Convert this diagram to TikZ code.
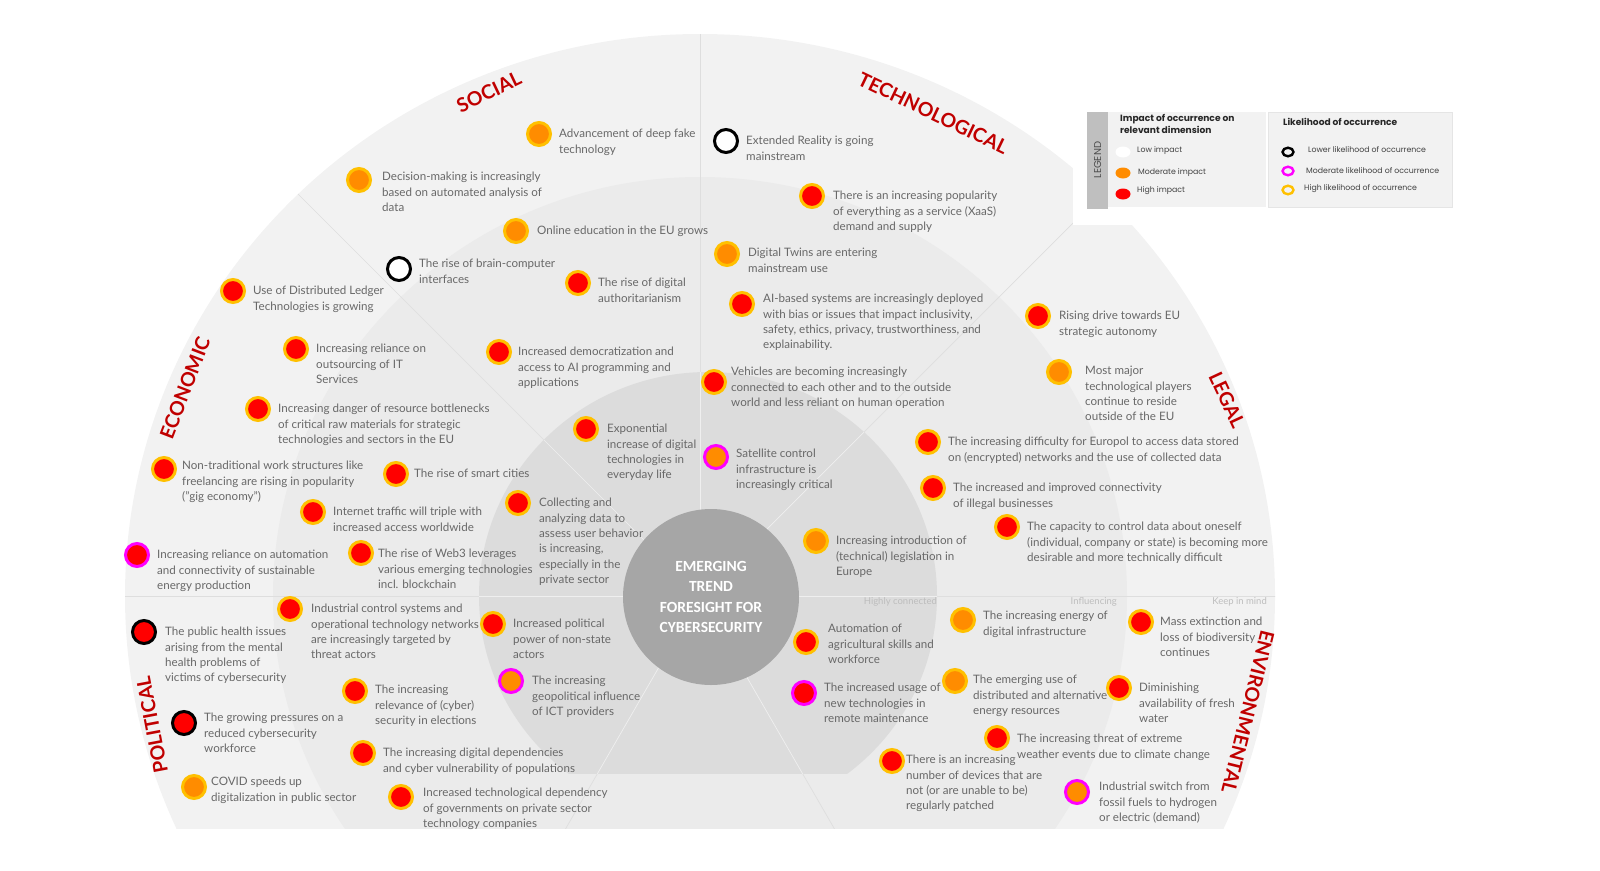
\documentclass[tikz,border=0pt]{standalone}
\usepackage{fontspec}
\setmainfont{Lato}
\newfontfamily\hubfont{Carlito}
\newfontfamily\legendfont{Poppins}
\usetikzlibrary{shapes.geometric}

\definecolor{ringouter}{HTML}{F2F2F2}
\definecolor{ringmid}{HTML}{EBEBEB}
\definecolor{ringinner}{HTML}{DCDCDC}
\definecolor{hubgrey}{HTML}{A6A6A6}
\definecolor{sectorline}{HTML}{DEDEDE}
\definecolor{impred}{HTML}{FF0000}
\definecolor{imporange}{HTML}{FF8C00}
\definecolor{likyellow}{HTML}{FFC000}
\definecolor{likmagenta}{HTML}{FF00FF}
\definecolor{dimred}{HTML}{C00000}
\definecolor{trendtext}{HTML}{686868}
\definecolor{zonetext}{HTML}{BDBDBD}
\definecolor{keystrip}{HTML}{BFBFBF}

\tikzset{
    trend/.style={circle, inner sep=0pt, minimum size=23pt, line width=3pt},
    highimp/.style={trend, fill=impred},
    modimp/.style={trend, fill=imporange},
    lowimp/.style={trend, fill=white},
    highlik/.style={draw=likyellow},
    modlik/.style={draw=likmagenta},
    lowlik/.style={draw=black},
    desc/.style={anchor=north west, align=left, inner sep=0pt, text=trendtext,
        font=\fontsize{11.6}{15.4}\selectfont},
    dimension/.style={inner sep=0pt, text=dimred, font=\bfseries\fontsize{19.5}{19.5}\selectfont},
    zone/.style={anchor=east, inner sep=0pt, text=zonetext, font=\fontsize{9.5}{11}\selectfont},
    hub/.style={circle, fill=hubgrey, minimum size=176pt, inner sep=0pt, text=white,
        align=center, font={\hubfont\bfseries\fontsize{15.5}{20.3}\selectfont}},
    keydot/.style={ellipse, inner sep=0pt, minimum width=15pt, minimum height=11pt},
    keyring/.style={ellipse, inner sep=0pt, minimum width=11pt, minimum height=8.5pt, line width=2.4pt},
    keytext/.style={anchor=west, inner sep=0pt, text=black!75, font=\legendfont\fontsize{7.8}{9}\selectfont},
    keytitle/.style={anchor=north west, align=left, inner sep=0pt, text=black!85,
        font=\legendfont\bfseries\fontsize{9.1}{12.5}\selectfont},
}

\begin{document}
\begin{tikzpicture}[x=1pt, y=-1pt]
    \useasboundingbox (0,0) rectangle (1600,870);
    \coordinate (ctr) at (700,596);

    \begin{scope}
        \clip (0,0) rectangle (1600,828);
        \fill[ringouter] (ctr) ellipse [x radius=575pt, y radius=562pt];
        \fill[ringmid] (ctr) ellipse [x radius=427pt, y radius=419pt];
        \clip (ctr) ellipse [x radius=575pt, y radius=562pt];
        \foreach \a in {0,45,90,135,180,240,300}
            \draw[sectorline, line width=0.7pt] (ctr) -- ++(\a:600pt);
        \begin{scope}
            \clip (0,0) rectangle (1600,773);
            \fill[ringinner] (708,596) ellipse [x radius=229pt, y radius=224pt];
            \clip (708,596) ellipse [x radius=229pt, y radius=224pt];
            \foreach \a in {0,45,90,135,180,240,300}
                \draw[white!55!ringinner, line width=0.7pt] (ctr) -- ++(\a:600pt);
        \end{scope}
    \end{scope}

    \fill[white] (1073,0) rectangle (1600,225);

    \node[hub] (hub) at (711,597) {EMERGING\\TREND\\FORESIGHT FOR\\CYBERSECURITY};

    \node[dimension, rotate=25.5] (social) at (489,92) {SOCIAL};
    \node[dimension, rotate=-25.6] (technological) at (933,113) {TECHNOLOGICAL};
    \node[dimension, rotate=69] (economic) at (185,388) {ECONOMIC};
    \node[dimension, rotate=-65] (legal) at (1227,400) {LEGAL};
    \node[dimension, rotate=100.7] (political) at (152,725) {POLITICAL};
    \node[dimension, rotate=-103.8] (environmental) at (1248,712) {ENVIRONMENTAL};

    \node[zone] (zone1) at (937,602) {Highly connected};
    \node[zone] (zone2) at (1117,602) {Influencing};
    \node[zone] (zone3) at (1267,602) {Keep in mind};

    \fill[keystrip] (1087,112) rectangle (1108,209);
    \node[rotate=90, inner sep=0pt, text=black!70, font=\legendfont\fontsize{10}{10}\selectfont]
        (legend) at (1097.5,160) {LEGEND};
    \fill[ringouter] (1108,112) rectangle (1266,207);
    \filldraw[fill=ringouter, draw=black!10] (1268,112) rectangle (1452,207);

    \node[keytitle] (imptitle) at (1120,114) {Impact of occurrence on\\relevant dimension};
    \node[keydot, fill=white] (key-low) at (1123,152) {};
    \node[keydot, fill=imporange] (key-mod) at (1123,173) {};
    \node[keydot, fill=impred] (key-high) at (1123,194) {};
    \node[keytext] at (1137,151) {Low impact};
    \node[keytext] at (1138,173) {Moderate impact};
    \node[keytext] at (1137,191) {High impact};

    \node[keytitle] (liktitle) at (1283,118) {Likelihood of occurrence};
    \node[keyring, draw=black] (key-lower) at (1288,152) {};
    \node[keyring, draw=likmagenta] (key-moderate) at (1288,171) {};
    \node[keyring, draw=likyellow] (key-higher) at (1288,190) {};
    \node[keytext] at (1308,150) {Lower likelihood of occurrence};
    \node[keytext] at (1306,171) {Moderate likelihood of occurrence};
    \node[keytext] at (1304,189) {High likelihood of occurrence};

    \node[modimp, highlik] (deepfake) at (539,134) {};
    \node[desc] at (559,129) {Advancement of deep fake\\technology};
    \node[modimp, highlik] (decision) at (359,180) {};
    \node[desc] at (382,172) {Decision-making is increasingly\\based on automated analysis of\\data};
    \node[modimp, highlik] (onlineedu) at (516,231) {};
    \node[desc] at (537,226) {Online education in the EU grows};
    \node[lowimp, lowlik] (braincomp) at (399,269) {};
    \node[desc] at (419,259) {The rise of brain-computer\\interfaces};
    \node[highimp, highlik] (authorit) at (578,283) {};
    \node[desc] at (598,278) {The rise of digital\\authoritarianism};
    \node[highimp, highlik] (ledger) at (233,291) {};
    \node[desc] at (253,286) {Use of Distributed Ledger\\Technologies is growing};
    \node[highimp, highlik] (democrat) at (499,352) {};
    \node[desc] at (518,347) {Increased democratization and\\access to AI programming and\\applications};
    \node[highimp, highlik] (exponential) at (586,429) {};
    \node[desc] at (607,424) {Exponential\\increase of digital\\technologies in\\everyday life};

    \node[lowimp, lowlik] (xr) at (726,141) {};
    \node[desc] at (746,136) {Extended Reality is going\\mainstream};
    \node[highimp, highlik] (xaas) at (812,196) {};
    \node[desc] at (833,191) {There is an increasing popularity\\of everything as a service (XaaS)\\demand and supply};
    \node[modimp, highlik] (twins) at (727,254) {};
    \node[desc] at (748,248) {Digital Twins are entering\\mainstream use};
    \node[highimp, highlik] (aibias) at (742,304) {};
    \node[desc] at (763,294) {AI-based systems are increasingly deployed\\with bias or issues that impact inclusivity,\\safety, ethics, privacy, trustworthiness, and\\explainability.};
    \node[highimp, highlik] (vehicles) at (714,382) {};
    \node[desc] at (731,367) {Vehicles are becoming increasingly\\connected to each other and to the outside\\world and less reliant on human operation};
    \node[modimp, modlik] (satellite) at (716,457) {};
    \node[desc] at (736,449) {Satellite control\\infrastructure is\\increasingly critical};

    \node[highimp, highlik] (autonomy) at (1038,316) {};
    \node[desc] at (1059,311) {Rising drive towards EU\\strategic autonomy};
    \node[modimp, highlik] (players) at (1059,372) {};
    \node[desc] at (1085,366) {Most major\\technological players\\continue to reside\\outside of the EU};
    \node[highimp, highlik] (europol) at (928,442) {};
    \node[desc] at (948,437) {The increasing difficulty for Europol to access data stored\\on (encrypted) networks and the use of collected data};
    \node[highimp, highlik] (illegal) at (933,488) {};
    \node[desc] at (953,483) {The increased and improved connectivity\\of illegal businesses};
    \node[highimp, highlik] (selfdata) at (1007,527) {};
    \node[desc] at (1027,522) {The capacity to control data about oneself\\(individual, company or state) is becoming more\\desirable and more technically difficult};
    \node[modimp, highlik] (legislation) at (816,541) {};
    \node[desc] at (836,536) {Increasing introduction of\\(technical) legislation in\\Europe};

    \node[highimp, highlik] (outsourcing) at (296,349) {};
    \node[desc] at (316,344) {Increasing reliance on\\outsourcing of IT\\Services};
    \node[highimp, highlik] (rawmat) at (258,409) {};
    \node[desc] at (278,404) {Increasing danger of resource bottlenecks\\of critical raw materials for strategic\\technologies and sectors in the EU};
    \node[highimp, highlik] (gig) at (164,469) {};
    \node[desc] at (182,461) {Non-traditional work structures like\\freelancing are rising in popularity\\("gig economy")};
    \node[highimp, highlik] (smartcities) at (396,474) {};
    \node[desc] at (414,469) {The rise of smart cities};
    \node[highimp, highlik] (traffic) at (313,512) {};
    \node[desc] at (333,507) {Internet traffic will triple with\\increased access worldwide};
    \node[highimp, modlik] (sustenergy) at (137,555) {};
    \node[desc] at (157,550) {Increasing reliance on automation\\and connectivity of sustainable\\energy production};
    \node[highimp, highlik] (webthree) at (361,553) {};
    \node[desc] at (378,549) {The rise of Web3 leverages\\various emerging technologies\\incl. blockchain};
    \node[highimp, highlik] (userdata) at (518,503) {};
    \node[desc] at (539,498) {Collecting and\\analyzing data to\\assess user behavior\\is increasing,\\especially in the\\private sector};

    \node[highimp, highlik] (ics) at (290,609) {};
    \node[desc] at (311,604) {Industrial control systems and\\operational technology networks\\are increasingly targeted by\\threat actors};
    \node[highimp, lowlik] (mentalhealth) at (144,632) {};
    \node[desc] at (165,627) {The public health issues\\arising from the mental\\health problems of\\victims of cybersecurity};
    \node[highimp, highlik] (nonstate) at (493,624) {};
    \node[desc] at (513,619) {Increased political\\power of non-state\\actors};
    \node[highimp, highlik] (elections) at (355,691) {};
    \node[desc] at (375,685) {The increasing\\relevance of (cyber)\\security in elections};
    \node[modimp, modlik] (ictgeo) at (511,681) {};
    \node[desc] at (532,676) {The increasing\\geopolitical influence\\of ICT providers};
    \node[highimp, lowlik] (workforce) at (184,723) {};
    \node[desc] at (204,713) {The growing pressures on a\\reduced cybersecurity\\workforce};
    \node[highimp, highlik] (populations) at (363,753) {};
    \node[desc] at (383,748) {The increasing digital dependencies\\and cyber vulnerability of populations};
    \node[modimp, highlik] (covid) at (194,787) {};
    \node[desc] at (211,777) {COVID speeds up\\digitalization in public sector};
    \node[highimp, highlik] (govdep) at (401,797) {};
    \node[desc] at (423,788) {Increased technological dependency\\of governments on private sector\\technology companies};

    \node[highimp, highlik] (agri) at (806,642) {};
    \node[desc] at (828,624) {Automation of\\agricultural skills and\\workforce};
    \node[highimp, modlik] (remote) at (804,693) {};
    \node[desc] at (824,683) {The increased usage of\\new technologies in\\remote maintenance};
    \node[modimp, highlik] (energyinfra) at (963,620) {};
    \node[desc] at (983,611) {The increasing energy of\\digital infrastructure};
    \node[modimp, highlik] (altenergy) at (955,681) {};
    \node[desc] at (973,675) {The emerging use of\\distributed and alternative\\energy resources};
    \node[highimp, highlik] (extinction) at (1141,622) {};
    \node[desc] at (1160,617) {Mass extinction and\\loss of biodiversity\\continues};
    \node[highimp, highlik] (freshwater) at (1119,688) {};
    \node[desc] at (1139,683) {Diminishing\\availability of fresh\\water};
    \node[highimp, highlik] (weather) at (997,738) {};
    \node[desc] at (1017,734) {The increasing threat of extreme\\weather events due to climate change};
    \node[highimp, highlik] (patching) at (892,761) {};
    \node[desc] at (906,755) {There is an increasing\\number of devices that are\\not (or are unable to be)\\regularly patched};
    \node[modimp, modlik] (hydrogen) at (1077,792) {};
    \node[desc] at (1099,782) {Industrial switch from\\fossil fuels to hydrogen\\or electric (demand)};
\end{tikzpicture}
\end{document}
